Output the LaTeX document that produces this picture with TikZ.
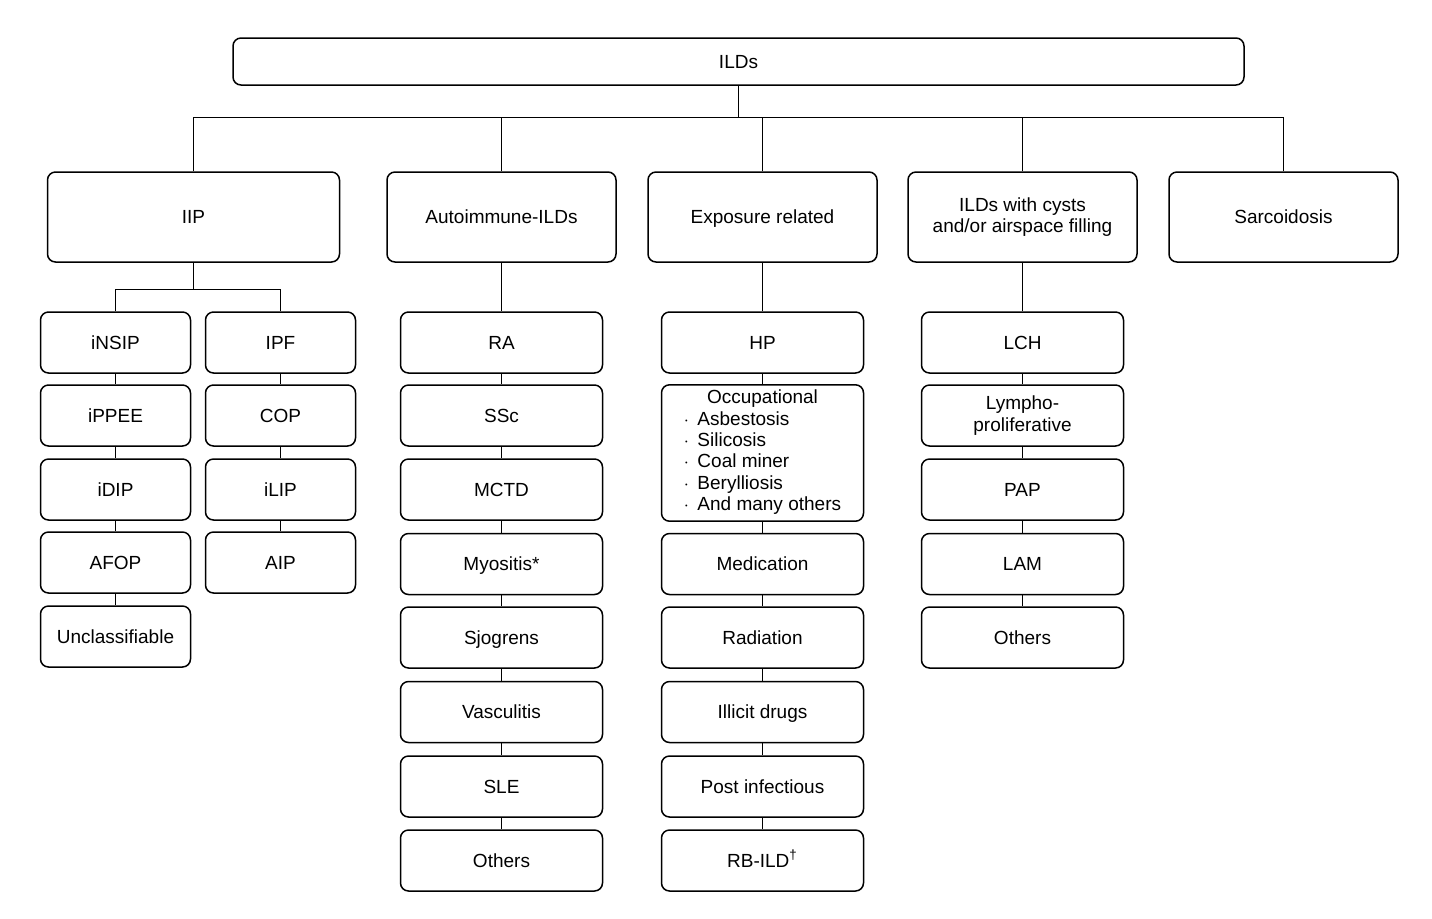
\documentclass[tikz,border=0pt]{standalone}
\usepackage{fontspec}
\setmainfont{Liberation Sans}
\usepackage{tikz}

\tikzset{
  box/.style={draw, rounded corners=4pt, line width=0.75pt, align=center,
    inner sep=2pt, minimum width=101pt, minimum height=30.5pt,
    text height=7pt, text depth=0.2pt,
    font=\fontsize{9.5}{10.7}\selectfont},
  multi/.style={text height=, text depth=},
  topbox/.style={box, minimum width=146pt, minimum height=45pt},
  small/.style={box, minimum width=75pt},
  link/.style={line width=0.75pt}
}

\begin{document}
\begin{tikzpicture}[x=0.5pt, y=-0.5pt]
\useasboundingbox (0,0) rectangle (1432,918);

\node[box, minimum width=505.5pt, minimum height=23.5pt] (ilds) at (738.5,61.5) {ILDs};

\node[topbox] (iip) at (193.5,217) {IIP};
\node[topbox, minimum width=114.5pt] (auto) at (501.5,217) {Autoimmune-ILDs};
\node[topbox, minimum width=114.5pt] (expo) at (762.5,217) {Exposure related};
\node[topbox, minimum width=114.5pt, multi] (cyst) at (1022.5,217) {ILDs with cysts\\and/or airspace filling};
\node[topbox, minimum width=114.5pt] (sarc) at (1283.5,217) {Sarcoidosis};

\node[small] (insip) at (115.5,342.5) {iNSIP};
\node[small] (ippee) at (115.5,415.5) {iPPEE};
\node[small] (idip) at (115.5,489.5) {iDIP};
\node[small] (afop) at (115.5,562.5) {AFOP};
\node[small] (uncl) at (115.5,636.5) {Unclassifiable};
\node[small] (ipf) at (280.5,342.5) {IPF};
\node[small] (cop) at (280.5,415.5) {COP};
\node[small] (ilip) at (280.5,489.5) {iLIP};
\node[small] (aip) at (280.5,562.5) {AIP};

\node[box] (ra) at (501.5,342.5) {RA};
\node[box] (ssc) at (501.5,415.5) {SSc};
\node[box] (mctd) at (501.5,489.5) {MCTD};
\node[box] (myo) at (501.5,564) {Myositis*};
\node[box] (sjo) at (501.5,637.5) {Sjogrens};
\node[box] (vasc) at (501.5,712) {Vasculitis};
\node[box] (sle) at (501.5,786.5) {SLE};
\node[box] (aoth) at (501.5,860.5) {Others};

\node[box] (hp) at (762.5,342.5) {HP};
\node[box, multi, minimum height=68pt] (occ) at (762.5,453) {%
  \begin{tabular}{@{}l@{}}
  \multicolumn{1}{@{}c@{}}{Occupational}\\
  $\cdot$\, Asbestosis\\
  $\cdot$\, Silicosis\\
  $\cdot$\, Coal miner\\
  $\cdot$\, Berylliosis\\
  $\cdot$\, And many others
  \end{tabular}};
\node[box] (med) at (762.5,564) {Medication};
\node[box] (rad) at (762.5,637.5) {Radiation};
\node[box] (illi) at (762.5,712) {Illicit drugs};
\node[box] (post) at (762.5,786.5) {Post infectious};
\node[box] (rbild) at (762.5,860.5) {RB-ILD\textsuperscript{\textdagger}};

\node[box] (lch) at (1022.5,342.5) {LCH};
\node[box, multi] (lymph) at (1022.5,415.5) {Lympho-\\proliferative};
\node[box] (pap) at (1022.5,489.5) {PAP};
\node[box] (lam) at (1022.5,564) {LAM};
\node[box] (coth) at (1022.5,637.5) {Others};

\coordinate (bus) at (738.5,117.5);
\coordinate (iipbus) at (193.5,289.5);

\draw[link] (ilds.south) -- (bus);
\draw[link] (bus) -| (iip.north);
\draw[link] (bus) -| (sarc.north);
\draw[link] (auto.north) -- (auto.north |- bus);
\draw[link] (expo.north) -- (expo.north |- bus);
\draw[link] (cyst.north) -- (cyst.north |- bus);

\draw[link] (iip.south) -- (iipbus);
\draw[link] (iipbus) -| (insip.north);
\draw[link] (iipbus) -| (ipf.north);

\draw[link] (auto.south) -- (ra.north);
\draw[link] (expo.south) -- (hp.north);
\draw[link] (cyst.south) -- (lch.north);

\foreach \a/\b in {insip/ippee, ippee/idip, idip/afop, afop/uncl,
                   ipf/cop, cop/ilip, ilip/aip,
                   ra/ssc, ssc/mctd, mctd/myo, myo/sjo, sjo/vasc, vasc/sle, sle/aoth,
                   hp/occ, occ/med, med/rad, rad/illi, illi/post, post/rbild,
                   lch/lymph, lymph/pap, pap/lam, lam/coth}
  \draw[link] (\a.south) -- (\b.north);
\end{tikzpicture}
\end{document}
